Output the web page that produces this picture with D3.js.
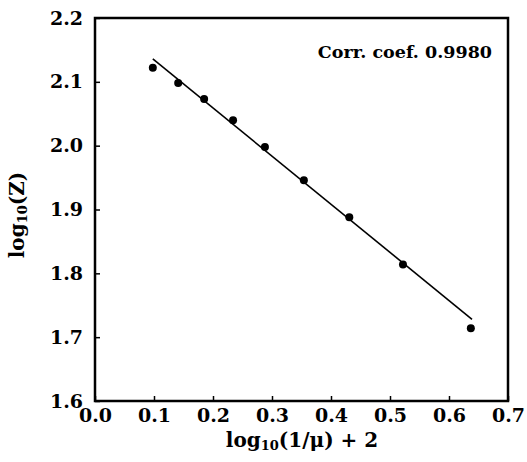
<!doctype html>
<html>
<head>
<script src="https://cdnjs.cloudflare.com/ajax/libs/d3/7.8.5/d3.min.js"></script>
<style>
body { margin:0; background:#fff; }
text { font-family: "DejaVu Serif", serif; font-weight: bold; fill:#000; }
</style>
</head>
<body>
<svg id="chart" width="527" height="462"></svg>
<script>
// data
var xVals = [0.098, 0.141, 0.185, 0.234, 0.288, 0.354, 0.431, 0.522, 0.637];
var yVals = [2.122, 2.098, 2.073, 2.040, 1.998, 1.946, 1.888, 1.814, 1.714];
var fitX = [0.098, 0.639];
var fitY = [2.136, 1.728];
var xTicks = [0.0, 0.1, 0.2, 0.3, 0.4, 0.5, 0.6, 0.7];
var yTicks = [1.6, 1.7, 1.8, 1.9, 2.0, 2.1, 2.2];
var corrLabel = "Corr. coef. 0.9980";

var svg = d3.select("#chart");
var mLeft = 95, mTop = 18, mRight = 508, mBottom = 401;

var x = d3.scaleLinear().domain([0, 0.7]).range([mLeft, mRight]);
var y = d3.scaleLinear().domain([1.6, 2.2]).range([mBottom, mTop]);

var xAxis = svg.append("g").attr("transform", "translate(0," + mBottom + ")")
  .call(d3.axisBottom(x).tickValues(xTicks).tickFormat(d3.format(".1f")).tickSizeInner(-5).tickSizeOuter(0).tickPadding(8));
var yAxis = svg.append("g").attr("transform", "translate(" + mLeft + ",0)")
  .call(d3.axisLeft(y).tickValues(yTicks).tickFormat(d3.format(".1f")).tickSizeInner(-5).tickSizeOuter(0).tickPadding(12));

[xAxis, yAxis].forEach(function(a) {
  a.select(".domain").remove();
  a.selectAll("line").attr("stroke", "#000").attr("stroke-width", 1.5);
  a.selectAll("text").style("font-family", "DejaVu Serif").style("font-weight", "bold").style("font-size", "19px");
});

// frame
svg.append("rect").attr("x", mLeft).attr("y", mTop).attr("width", mRight - mLeft).attr("height", mBottom - mTop)
  .attr("fill", "none").attr("stroke", "#000").attr("stroke-width", 2.5);

// fit line
var line = d3.line().x(function(d) { return x(d[0]); }).y(function(d) { return y(d[1]); });
svg.append("path").datum(d3.zip(fitX, fitY)).attr("d", line)
  .attr("fill", "none").attr("stroke", "#000").attr("stroke-width", 1.6);

// points
svg.selectAll("circle.pt").data(d3.zip(xVals, yVals)).enter().append("circle")
  .attr("class", "pt")
  .attr("cx", function(d) { return x(d[0]); })
  .attr("cy", function(d) { return y(d[1]); })
  .attr("r", 4).attr("fill", "#000");

svg.append("text").attr("x", 492).attr("y", 58).attr("text-anchor", "end")
  .style("font-size", "17.5px").text(corrLabel);

// axis titles
var xt = svg.append("text").attr("x", 302).attr("y", 447).attr("text-anchor", "middle").style("font-size", "20px");
xt.append("tspan").text("log");
xt.append("tspan").attr("font-size", "13px").attr("dy", 3).text("10");
xt.append("tspan").attr("dy", -3).text("(1/\u03bc) + 2");

var yt = svg.append("text").attr("transform", "translate(24,215) rotate(-90)").attr("text-anchor", "middle").style("font-size", "20px");
yt.append("tspan").text("log");
yt.append("tspan").attr("font-size", "13px").attr("dy", 3).text("10");
yt.append("tspan").attr("dy", -3).text("(Z)");
</script>
</body>
</html>
